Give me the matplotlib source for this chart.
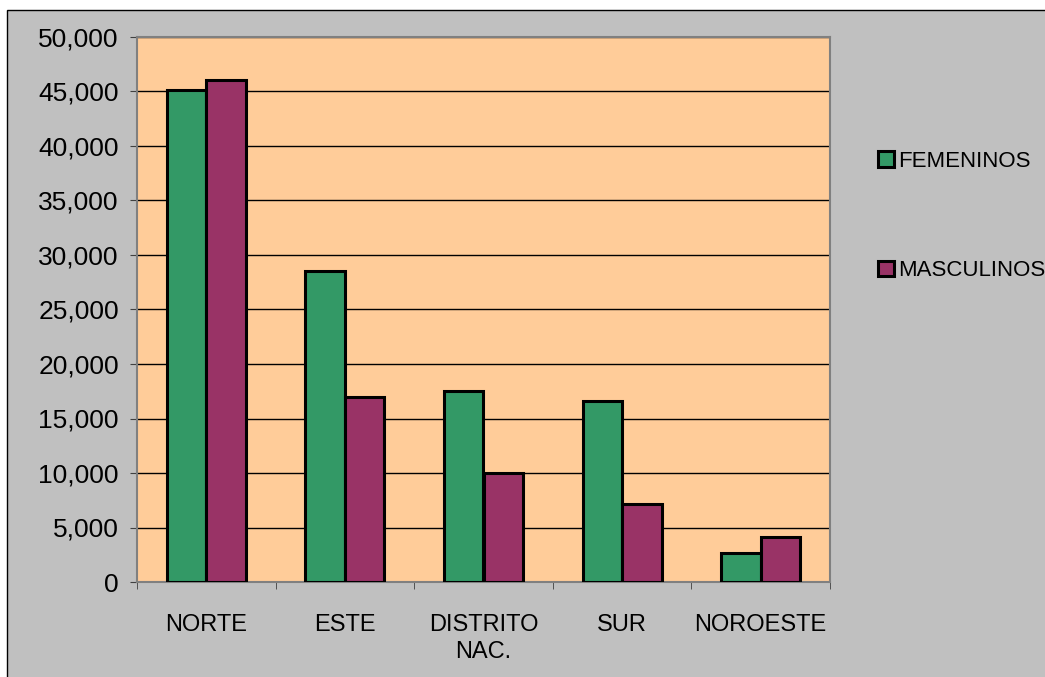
import matplotlib.pyplot as plt
import numpy as np
from matplotlib.patches import Rectangle
from matplotlib.ticker import FuncFormatter, FixedLocator

# data
regiones = ["NORTE", "ESTE", "DISTRITO\nNAC.", "SUR", "NOROESTE"]
femeninos = [45150, 28500, 17500, 16600, 2700]
masculinos = [46050, 17000, 10000, 7150, 4150]
series_names = ["FEMENINOS", "MASCULINOS"]

verde = "#339966"
granate = "#993366"
melocoton = "#FFCC99"
gris = "#C0C0C0"

plt.rcParams['font.family'] = ['Liberation Sans', 'DejaVu Sans']

fig = plt.figure(figsize=(10.45, 6.77), dpi=100, facecolor="white")
# gray chart area with thin black border (runs off right/bottom edge)
fig.patches.append(Rectangle((7 / 1045, -0.1), 1.2, (677 - 10) / 677 + 0.1,
                             transform=fig.transFigure, facecolor=gris,
                             edgecolor="black", linewidth=1, zorder=-5))

ax = fig.add_axes([137 / 1045, 1 - 582 / 677, (830 - 137) / 1045, (582 - 37) / 677])
ax.set_zorder(2)
ax.set_facecolor(melocoton)

x = np.arange(len(regiones))
w = 1 / 3.5  # excel gap width 150%
ax.bar(x - w / 2, femeninos, w, color=verde, edgecolor="black", linewidth=2.2,
       label=series_names[0], zorder=3)
ax.bar(x + w / 2, masculinos, w, color=granate, edgecolor="black", linewidth=2.2,
       label=series_names[1], zorder=3)

ax.set_xlim(-0.5, len(regiones) - 0.5)
ax.set_ylim(0, 50000)
ax.set_yticks(np.arange(0, 50001, 5000))
ax.yaxis.set_major_formatter(FuncFormatter(lambda v, p: f"{int(v):,}"))
ax.grid(axis="y", color="black", linewidth=1, zorder=1)

ax.set_xticks(x)
ax.set_xticklabels(regiones, fontsize=17, linespacing=1.3)
ax.xaxis.set_minor_locator(FixedLocator(np.arange(-0.5, len(regiones), 1.0)))
ax.tick_params(axis="x", which="major", length=0, pad=23)
ax.tick_params(axis="x", which="minor", length=5, direction="out", color="#404040")
ax.tick_params(axis="y", length=5, direction="out", color="#404040", pad=8, labelsize=19)

for s in ax.spines.values():
    s.set_color("#808080")
    s.set_linewidth(1.5)

fig.legend(loc="center left", bbox_to_anchor=(878 / 1045, 1 - 216 / 677),
           frameon=False, fontsize=16, handlelength=0.7, handleheight=0.7,
           handletextpad=0.2, labelspacing=4.0, borderpad=0, borderaxespad=0)

fig.savefig("out.png", dpi=100, facecolor=fig.get_facecolor())
